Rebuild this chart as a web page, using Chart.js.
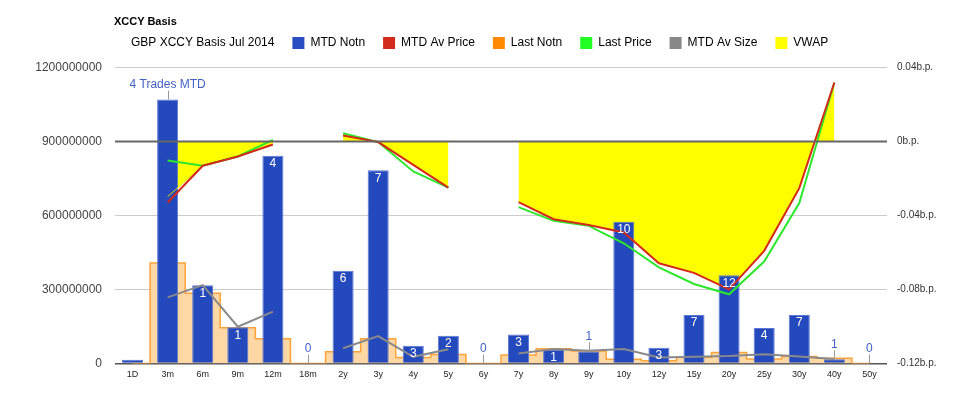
<!DOCTYPE html>
<html>
<head>
<meta charset="utf-8">
<title>XCCY Basis</title>
<script src="https://cdn.jsdelivr.net/npm/chart.js@4.4.1/dist/chart.umd.min.js"></script>
<style>
  body { margin: 0; background: #fff; }
  #wrap { position: relative; width: 975px; height: 398px; }
  #heading { position: absolute; left: 114px; top: 15px; font: bold 11px 'Liberation Sans', Arial, sans-serif; color: #000; }
  canvas { display: block; }
</style>
</head>
<body>
<div id="wrap">
  <div id="heading">XCCY Basis</div>
  <canvas id="xccyChart" width="975" height="398"></canvas>
</div>
<script>
// tenors along the bottom
const tenors = ['1D', '3m', '6m', '9m', '12m', '18m', '2y', '3y', '4y', '5y', '6y', '7y',
    '8y', '9y', '10y', '12y', '15y', '20y', '25y', '30y', '40y', '50y'];

const chartSubtitle = 'GBP XCCY Basis Jul 2014';

// left axis: notional
const mtdNotn = [15000000, 1070000000, 317000000, 147000000, 842000000, 0, 376000000, 783000000,
    72000000, 113000000, 0, 118000000, 57000000, 49000000, 575000000, 64000000, 197000000,
    358000000, 144000000, 197000000, 17000000, 0];
const lastNotn = [0, 407000000, 285000000, 145000000, 100000000, 0, 48000000, 100000000,
    24000000, 36000000, 0, 34000000, 60000000, 51000000, 17000000, 11000000, 25000000,
    45000000, 18000000, 28000000, 21000000, 0];
const mtdAvSize = [null, 268000000, 318000000, 149000000, 210000000, null, 62000000, 111000000,
    27000000, 58000000, null, 41000000, 59000000, 52000000, 59000000, 24000000, 27000000,
    30000000, 37000000, 28000000, 18000000, null];

// right axis: basis points
const mtdAvPrice = [null, -0.0330, -0.0131, -0.0081, -0.0016, null, 0.0032, -0.0003, -0.0126,
    -0.0249, null, -0.0328, -0.0420, -0.0451, -0.0492, -0.0658, -0.0710, -0.0799, -0.0591,
    -0.0252, 0.0319, null];
const lastPrice = [null, -0.0103, -0.0131, -0.0081, 0.0009, null, 0.0045, -0.0003, -0.0162,
    -0.0249, null, -0.0355, -0.0429, -0.0456, -0.0550, -0.0680, -0.0770, -0.0826, -0.0649,
    -0.0333, 0.0319, null];
const vwap = [null, -0.0298, -0.0131, -0.0081, -0.0016, null, 0.0032, -0.0003, -0.0126,
    -0.0249, null, -0.0328, -0.0420, -0.0451, -0.0492, -0.0658, -0.0710, -0.0799, -0.0591,
    -0.0252, 0.0319, null];

// trade count labels on the bars
const tradeLabels = [null, '4 Trades MTD', '1', '1', '4', '0', '6', '7', '3', '2', '0', '3',
    '1', '1', '10', '3', '7', '12', '4', '7', '1', '0'];

const leftTicks = [0, 300000000, 600000000, 900000000, 1200000000];
const rightTicks = [-0.12, -0.08, -0.04, 0, 0.04];

const fontFamily = "'Liberation Sans', Arial, sans-serif";
Chart.defaults.font.family = fontFamily;
Chart.defaults.animation = false;

// legend row starts under the heading, not at the canvas edge
const legendShift = {
    id: 'legendShift',
    afterLayout(chart) {
        chart.legend.left = 95;
    }
};

// zero b.p. line and trade count labels drawn over the bars
const tradeCountPlugin = {
    id: 'tradeCounts',
    afterDatasetsDraw(chart) {
        const ctx = chart.ctx;
        const area = chart.chartArea;
        const y0 = chart.scales.y1.getPixelForValue(0);
        ctx.save();
        ctx.strokeStyle = '#666';
        ctx.lineWidth = 2;
        ctx.beginPath();
        ctx.moveTo(area.left, y0);
        ctx.lineTo(area.right, y0);
        ctx.stroke();

        const bars = chart.getDatasetMeta(0).data;
        ctx.font = '12px ' + fontFamily;
        ctx.textAlign = 'center';
        ctx.textBaseline = 'middle';
        tradeLabels.forEach((label, i) => {
            if (label === null) return;
            const bar = bars[i].getProps(['x', 'y', 'base', 'width'], true);
            const h = bar.base - bar.y;
            const w = ctx.measureText(label).width;
            if (w + 4 <= bar.width && h >= 13) {
                ctx.fillStyle = '#fff';
                ctx.fillText(label, bar.x, bar.y + 8);
            } else {
                const sx = Math.round(bar.x) + 0.5;
                ctx.strokeStyle = '#999';
                ctx.lineWidth = 1;
                ctx.beginPath();
                ctx.moveTo(sx, bar.y);
                ctx.lineTo(sx, bar.y - 9);
                ctx.stroke();
                ctx.fillStyle = '#4461c6';
                ctx.fillText(label, bar.x, bar.y - 15);
            }
        });
        ctx.restore();
    }
};

const chart = new Chart(document.getElementById('xccyChart'), {
    type: 'bar',
    data: {
        labels: tenors,
        datasets: [
            {
                label: 'MTD Notn', data: mtdNotn, yAxisID: 'y', order: 5,
                backgroundColor: '#2449bd', borderColor: '#5b77d3', borderWidth: 1,
                barPercentage: 0.6, categoryPercentage: 1, legendColor: '#2a4cc2'
            },
            {
                type: 'line', label: 'MTD Av Price', data: mtdAvPrice, yAxisID: 'y1', order: 1,
                borderColor: '#d42a1c', borderWidth: 2, pointRadius: 0, fill: false,
                spanGaps: false, legendColor: '#d42a1c'
            },
            {
                type: 'line', label: 'Last Notn', data: lastNotn, yAxisID: 'y', order: 6,
                stepped: 'middle', fill: 'origin', backgroundColor: '#fdd8a4',
                borderColor: '#ffa238', borderWidth: 1.5, pointRadius: 0, legendColor: '#ff8a00'
            },
            {
                type: 'line', label: 'Last Price', data: lastPrice, yAxisID: 'y1', order: 2,
                borderColor: '#2be82b', borderWidth: 2, pointRadius: 0, fill: false,
                spanGaps: false, legendColor: '#22ff22'
            },
            {
                type: 'line', label: 'MTD Av Size', data: mtdAvSize, yAxisID: 'y', order: 3,
                borderColor: '#8a8a8a', borderWidth: 2, pointRadius: 0, fill: false,
                spanGaps: false, legendColor: '#888888'
            },
            {
                type: 'line', label: 'VWAP', data: vwap, yAxisID: 'y1', order: 4,
                borderColor: '#dede00', backgroundColor: '#ffff00', borderWidth: 1,
                pointRadius: 0, fill: 'origin', spanGaps: false, legendColor: '#ffff00'
            }
        ]
    },
    options: {
        responsive: false,
        devicePixelRatio: 1,
        layout: { padding: { left: 0, right: 0, top: 19, bottom: 0 } },
        plugins: {
            filler: { drawTime: 'beforeDatasetsDraw' },
            tooltip: { enabled: false },
            // empty title used only as a gap between the legend and the plot
            title: { display: true, text: '', font: { size: 5 }, padding: { top: 0, bottom: 2.5 }, weight: 2000 },
            legend: {
                position: 'top',
                align: 'start',
                weight: 3000,
                labels: {
                    boxWidth: 12, boxHeight: 12, padding: 18,
                    font: { size: 12 }, color: '#222',
                    generateLabels(chart) {
                        const items = chart.data.datasets.map((ds, i) => ({
                            text: ds.label, fillStyle: ds.legendColor, strokeStyle: ds.legendColor,
                            lineWidth: 0, hidden: false, datasetIndex: i
                        }));
                        items.unshift({
                            text: chartSubtitle, fillStyle: 'rgba(0,0,0,0)',
                            strokeStyle: 'rgba(0,0,0,0)', lineWidth: 0, hidden: false, datasetIndex: -1
                        });
                        return items;
                    }
                }
            }
        },
        scales: {
            x: {
                offset: true,
                grid: { display: false, drawTicks: false },
                border: { display: false },
                ticks: { font: { size: 9 }, color: '#222', padding: 6, maxRotation: 0, autoSkip: false },
                afterFit(s) { s.height = 34.5; }
            },
            y: {
                position: 'left',
                min: 0, max: 1200000000,
                afterBuildTicks(s) { s.ticks = leftTicks.map(v => ({ value: v })); },
                ticks: { callback: v => String(v), font: { size: 12 }, color: '#444', padding: 13 },
                grid: {
                    drawTicks: false,
                    color: c => c.tick && c.tick.value === 0 ? '#555' : '#cccccc',
                    lineWidth: c => c.tick && c.tick.value === 0 ? 1.5 : 1
                },
                border: { display: false },
                afterFit(s) { s.width = 115; }
            },
            y1: {
                position: 'right',
                min: -0.12, max: 0.04,
                afterBuildTicks(s) { s.ticks = rightTicks.map(v => ({ value: v })); },
                ticks: {
                    callback: v => (Math.round(v * 100) / 100) + 'b.p.',
                    font: { size: 10 }, color: '#333', padding: 10
                },
                grid: { display: false, drawTicks: false },
                border: { display: false },
                afterFit(s) { s.width = 88; }
            }
        }
    },
    plugins: [legendShift, tradeCountPlugin]
});
</script>
</body>
</html>
